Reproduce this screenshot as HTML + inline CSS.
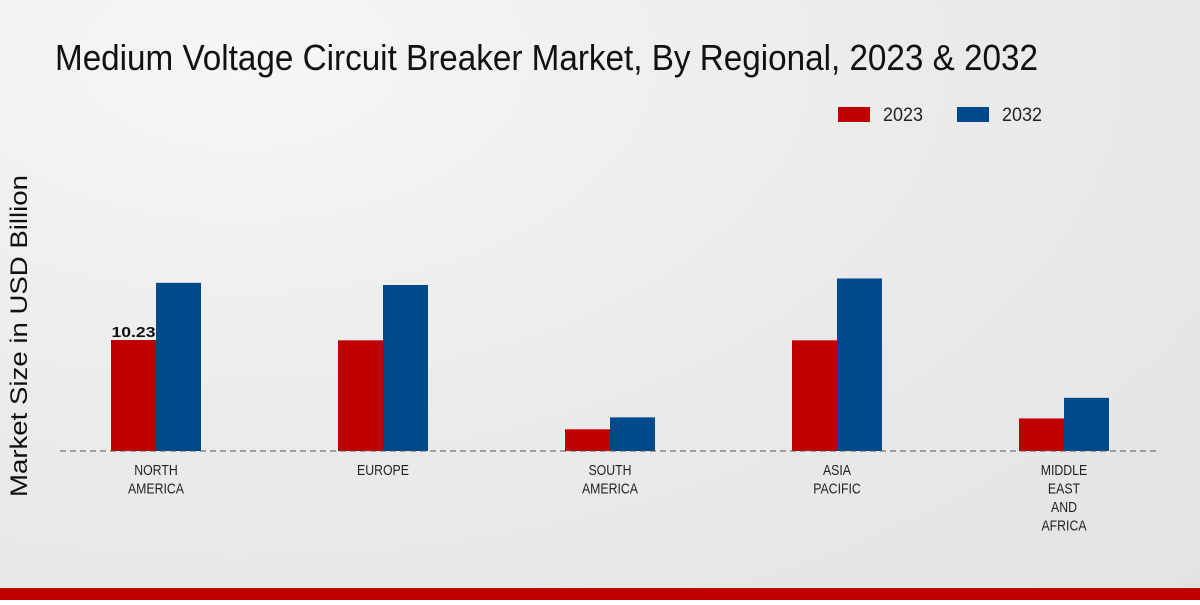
<!DOCTYPE html>
<html><head><meta charset="utf-8"><style>
body{margin:0;width:1200px;height:600px;overflow:hidden;font-family:"Liberation Sans",sans-serif}
#c{position:absolute;left:0;top:0;width:1200px;height:600px;background:radial-gradient(ellipse at 20% 10%,#f6f6f6 0%,#ebebeb 50%,#e3e3e3 100%)}
</style></head><body>
<div id="c">
<svg width="1200" height="600" id="svg">
<text x="55" y="70" font-family="Liberation Sans Narrow, Liberation Sans, sans-serif" font-size="36" fill="#111" textLength="983" lengthAdjust="spacingAndGlyphs">Medium Voltage Circuit Breaker Market, By Regional, 2023 &amp; 2032</text>
<g>
<rect x="838" y="107" width="32" height="15" fill="#c00000"/>
<text x="883" y="121" font-size="19" textLength="40" lengthAdjust="spacingAndGlyphs" fill="#222">2023</text>
<rect x="957" y="107" width="32" height="15" fill="#004a8c"/>
<text x="1002" y="121" font-size="19" textLength="40" lengthAdjust="spacingAndGlyphs" fill="#222">2032</text>
</g>
<text transform="translate(27,336) rotate(-90)" text-anchor="middle" font-size="24" textLength="322" lengthAdjust="spacingAndGlyphs" fill="#111">Market Size in USD Billion</text>
<g id="bars"></g>
<line x1="60" y1="451" x2="1160" y2="451" stroke="#555" stroke-dasharray="6,4"/>
<g id="labels"></g>
<rect x="0" y="588" width="1200" height="12" fill="#c00000"/>
</svg></div>
<script>
const categories=[["NORTH","AMERICA"],["EUROPE"],["SOUTH","AMERICA"],["ASIA","PACIFIC"],["MIDDLE","EAST","AND","AFRICA"]];
const values2023=[10.23,10.2,2.0,10.2,3.0];
const values2032=[15.5,15.3,3.1,15.9,4.9];
const NS="http://www.w3.org/2000/svg";
const base=451,scale=10.85,x0=156,step=227,bw=45;
const y=v=>base-v*scale;
const bars=document.getElementById('bars'),labels=document.getElementById('labels');
function rect(x,v,c,n){const r=document.createElementNS(NS,'rect');r.setAttribute('x',x);r.setAttribute('y',y(v));r.setAttribute('width',bw);r.setAttribute('height',base-y(v));r.setAttribute('fill',c);


bars.appendChild(r);}
categories.forEach((cat,i)=>{const cx=x0+i*step;
rect(cx-bw,values2023[i],'#c00000','bar-2023-'+i);
rect(cx,values2032[i],'#004a8c','bar-2032-'+i);
cat.forEach((l,j)=>{const t=document.createElementNS(NS,'text');t.setAttribute('x',cx);t.setAttribute('y',475+j*18.5);t.setAttribute('text-anchor','middle');t.setAttribute('font-size','15');t.setAttribute('fill','#222');t.textContent=l;


labels.appendChild(t);
const w=t.getComputedTextLength();t.setAttribute('textLength',w*0.82);t.setAttribute('lengthAdjust','spacingAndGlyphs');});});
const v=document.createElementNS(NS,'text');v.setAttribute('x',x0-bw/2);v.setAttribute('y',y(values2023[0])-3);v.setAttribute('text-anchor','middle');v.setAttribute('font-size','15');v.setAttribute('font-weight','bold');v.setAttribute('fill','#111');v.setAttribute('textLength','44');v.setAttribute('lengthAdjust','spacingAndGlyphs');v.textContent=values2023[0];


labels.appendChild(v);
</script>
</body></html>
